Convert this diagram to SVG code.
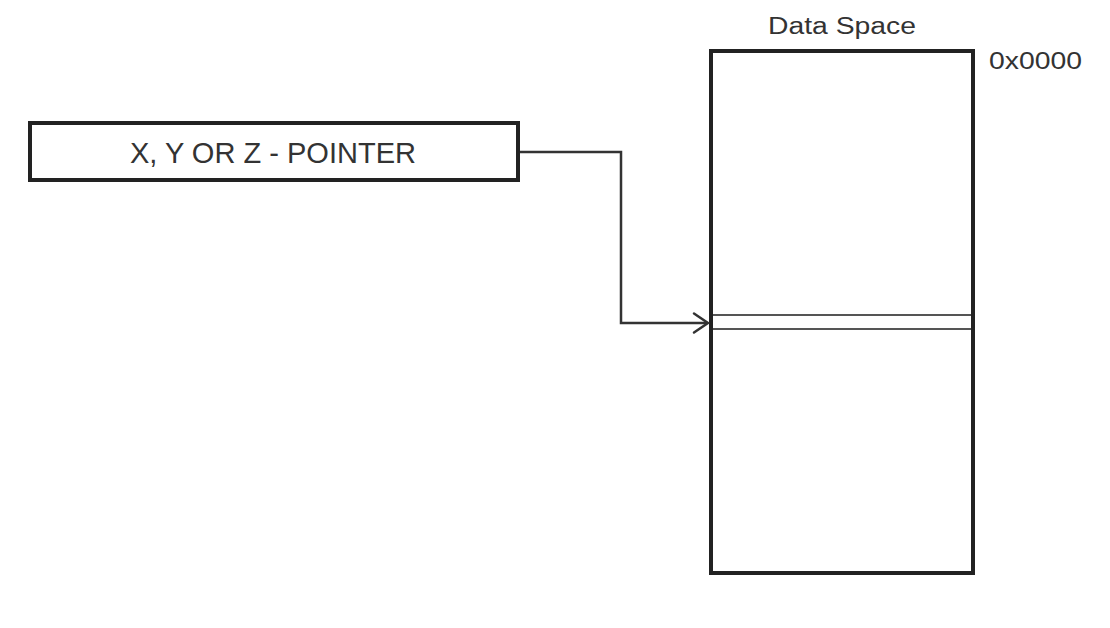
<svg xmlns="http://www.w3.org/2000/svg" width="1110" height="628" viewBox="0 0 1110 628">
<style>
.t{font-family:"Liberation Sans",Arial,sans-serif;fill:#333}
.box{fill:#fff;stroke:#222;stroke-width:4}
.conn{fill:none;stroke:#333;stroke-width:2.5}
.cell{stroke:#555;stroke-width:1.8}
</style>
<rect width="1110" height="628" fill="#fff"/>
<g id="pointer">
<rect class="box" x="30" y="123" width="488" height="57"/>
<text class="t" x="130" y="163" font-size="29" textLength="286" lengthAdjust="spacingAndGlyphs">X, Y OR Z - POINTER</text>
</g>
<g id="dataspace">
<text class="t" x="768" y="33.5" font-size="23.5" textLength="148" lengthAdjust="spacingAndGlyphs">Data Space</text>
<text class="t" x="989" y="68.5" font-size="23.5" textLength="93" lengthAdjust="spacingAndGlyphs">0x0000</text>
<rect class="box" x="711" y="51" width="262" height="522"/>
<line class="cell" x1="713" y1="315" x2="971" y2="315"/>
<line class="cell" x1="713" y1="329" x2="971" y2="329"/>
</g>
<g id="connectors">
<polyline class="conn" points="520,152 621,152 621,323 707,323"/>
<polyline class="conn" points="694,313.5 708,323 694,332.5" stroke-width="3.5" stroke-linecap="round"/>
</g>
</svg>
